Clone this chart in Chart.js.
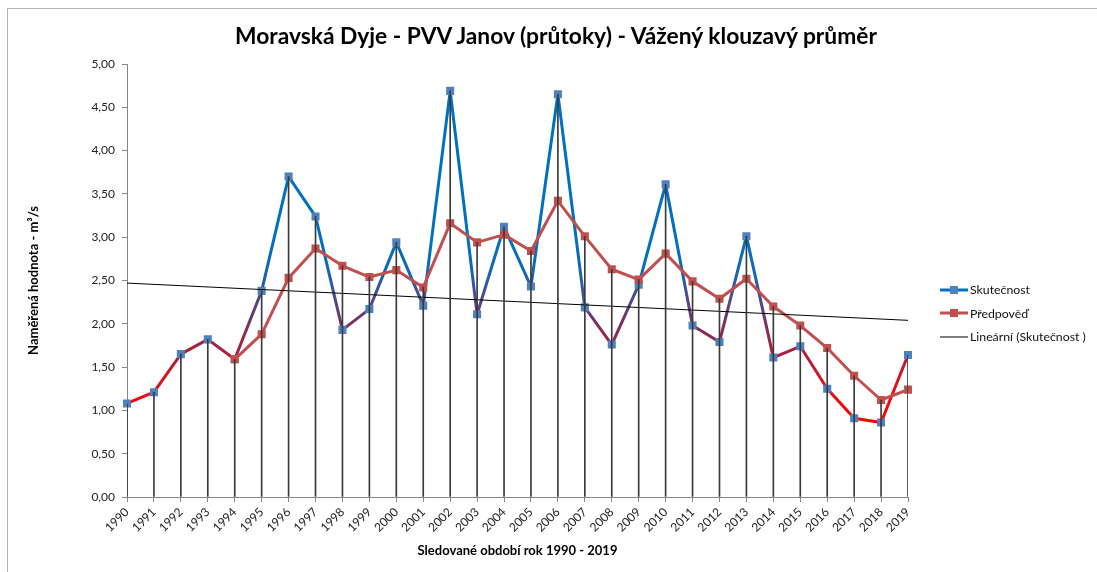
<!DOCTYPE html>
<html>
<head>
<meta charset="utf-8">
<script src="https://cdn.jsdelivr.net/npm/chart.js@4.4.1/dist/chart.umd.min.js"></script>
<style>
html,body{margin:0;padding:0;background:#fff;}
#wrap{position:relative;width:1097px;height:572px;overflow:hidden;background:#fff;}
#frame{position:absolute;left:7px;top:8px;width:1300px;height:800px;border-left:1px solid #b4b4b4;border-top:1px solid #b4b4b4;}
#c{position:absolute;left:0;top:0;}
#title{position:absolute;left:156px;width:800px;top:20px;text-align:center;font-family:Lato,"Open Sans",sans-serif;font-weight:bold;font-size:22.8px;line-height:30px;color:#000;white-space:nowrap;}
#legend{position:absolute;left:940px;top:278px;font-family:Lato,"Open Sans",sans-serif;font-size:12.3px;color:#111;}
.item{height:23.5px;display:flex;align-items:center;white-space:nowrap;}
.item svg{margin-right:2px;}
</style>
</head>
<body>
<div id="wrap">
<div id="frame"></div>
<canvas id="c" width="1097" height="572"></canvas>
<div id="title">Moravská Dyje - PVV Janov (průtoky) - Vážený klouzavý průměr</div>
<div id="legend">
  <div class="item"><svg width="28" height="10"><line x1="0" y1="5" x2="28" y2="5" stroke="#0070C0" stroke-width="3"/><rect x="10" y="1" width="8" height="8" fill="#4F81BD"/></svg>Skutečnost</div>
  <div class="item"><svg width="28" height="10"><line x1="0" y1="5" x2="28" y2="5" stroke="#C0504D" stroke-width="3"/><rect x="10" y="1" width="8" height="8" fill="#C0504D"/></svg>Předpověď</div>
  <div class="item"><svg width="28" height="10"><line x1="0" y1="5" x2="28" y2="5" stroke="#000" stroke-width="1"/></svg>Lineární (Skutečnost )</div>
</div>
</div>
<script>
const years = ['1990','1991','1992','1993','1994','1995','1996','1997','1998','1999','2000','2001','2002','2003','2004','2005','2006','2007','2008','2009','2010','2011','2012','2013','2014','2015','2016','2017','2018','2019'];
const actual = [1.08,1.21,1.65,1.82,1.59,2.38,3.70,3.24,1.93,2.17,2.94,2.21,4.69,2.11,3.12,2.43,4.65,2.19,1.76,2.45,3.61,1.98,1.79,3.01,1.61,1.74,1.25,0.91,0.86,1.64];
const forecast = [null,null,null,null,1.59,1.88,2.53,2.87,2.67,2.54,2.62,2.42,3.16,2.94,3.03,2.84,3.42,3.01,2.63,2.51,2.81,2.49,2.29,2.52,2.20,1.98,1.72,1.40,1.12,1.24];
const trendEnds = [2.47, 2.04];
const yTicks = [0,0.5,1,1.5,2,2.5,3,3.5,4,4.5,5];

const trend = years.map((_, i) => i === 0 ? trendEnds[0] : (i === years.length - 1 ? trendEnds[1] : null));
const drop = years.map((_, i) => Math.max(actual[i], forecast[i] == null ? -Infinity : forecast[i]));

const FONT = 'Lato, "Open Sans", sans-serif';

function blueGradient(context) {
  const chart = context.chart;
  const {chartArea, scales} = chart;
  if (!chartArea || !scales.y) return '#0070C0';
  const y = scales.y;
  const y0 = y.getPixelForValue(0), y5 = y.getPixelForValue(5);
  const g = chart.ctx.createLinearGradient(0, y0, 0, y5);
  const stops = [[0,'#FF0000'],[1.0,'#FF0000'],[1.3,'#E0101E'],[1.7,'#A82040'],[2.0,'#7A3060'],[2.3,'#4A4C90'],[2.6,'#1466B4'],[2.9,'#0070C0'],[5,'#0070C0']];
  stops.forEach(([v,c]) => g.addColorStop(v/5, c));
  return g;
}

new Chart(document.getElementById('c'), {
  data: {
    labels: years,
    datasets: [
      {type:'bar', label:'drop', data: drop, backgroundColor:'#3a3a3a', barThickness:1, order:0},
      {type:'line', label:'Lineární (Skutečnost )', data: trend, borderColor:'#000', borderWidth:1, pointRadius:0, spanGaps:true, tension:0, order:1},
      {type:'line', label:'Předpověď', data: forecast, borderColor:'#C0504D', borderWidth:3, borderJoinStyle:'round', pointStyle:'rect', pointRadius:5.7, pointBackgroundColor:'#C0504D', pointBorderColor:'#C0504D', pointBorderWidth:0, tension:0, order:2},
      {type:'line', label:'Skutečnost', data: actual, borderColor: blueGradient, borderWidth:3, borderJoinStyle:'round', pointStyle:'rect', pointRadius:5.7, pointBackgroundColor:'#4F81BD', pointBorderColor:'#4F81BD', pointBorderWidth:0, tension:0, order:3}
    ]
  },
  options: {
    responsive:false,
    animation:false,
    layout:{padding:{left:22, right:189, top:64, bottom:10}},
    plugins:{
      legend:{display:false},
      tooltip:{enabled:false},
      title:{display:false}
    },
    scales:{
      x:{
        type:'category', offset:false,
        grid:{display:true, drawOnChartArea:false, drawTicks:true, tickLength:5, color:'#868686', offset:false},
        border:{display:true, color:'#868686'},
        ticks:{autoSkip:false, minRotation:45, maxRotation:45, padding:3, color:'#222', font:{family:FONT, size:12}},
        title:{display:true, text:'Sledované období rok 1990 - 2019', color:'#000', font:{family:FONT, size:13, weight:'bold'}, padding:{top:4,bottom:3}},
        afterFit(s){ s.height = 65; }
      },
      y:{
        min:0, max:5,
        afterBuildTicks(s){ s.ticks = yTicks.map(v => ({value:v})); },
        grid:{display:true, drawOnChartArea:false, drawTicks:true, tickLength:5, color:'#868686'},
        border:{display:true, color:'#868686'},
        ticks:{padding:7, color:'#222', font:{family:FONT, size:12}, callback:(v) => Number(v).toFixed(2).replace('.', ',')},
        title:{display:true, text:'Naměřená hodnota - m³/s', color:'#000', font:{family:FONT, size:13, weight:'bold'}, padding:{top:4,bottom:4}},
        afterFit(s){ s.width = 105; }
      }
    }
  }
});
</script>
</body>
</html>
